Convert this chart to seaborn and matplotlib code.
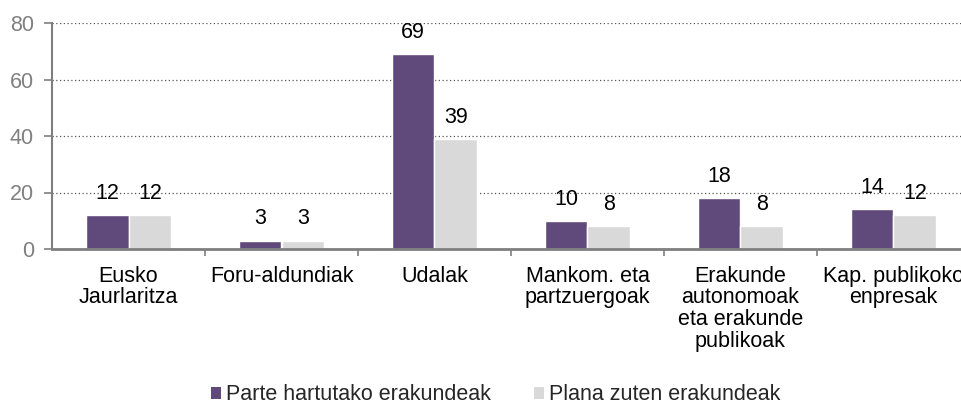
import matplotlib
matplotlib.use("Agg")
import matplotlib.pyplot as plt
import seaborn as sns
import pandas as pd
import numpy as np
from matplotlib.patches import Patch

categories = ["Eusko\nJaurlaritza", "Foru-aldundiak", "Udalak", "Mankom. eta\npartzuergoak",
              "Erakunde\nautonomoak\neta erakunde\npublikoak", "Kap. publikoko\nenpresak"]
series_names = ["Parte hartutako erakundeak", "Plana zuten erakundeak"]
parte = [12, 3, 69, 10, 18, 14]
plana = [12, 3, 39, 8, 8, 12]
yticks = [0, 20, 40, 60, 80]

colors = ["#604A7B", "#D9D9D9"]

sns.set_theme(style="white")
plt.rcParams['font.family'] = ['Liberation Sans', 'DejaVu Sans']

df = pd.DataFrame({
    "cat": categories * 2,
    "serie": [series_names[0]] * 6 + [series_names[1]] * 6,
    "val": parte + plana,
})

fs = 15.5
fig = plt.figure(figsize=(9.62, 4.05), dpi=100)
ax = fig.add_axes([52/962, 1-249/405, 918/962, 226/405])
sns.barplot(data=df, x="cat", y="val", hue="serie", palette=colors, width=0.56,
            ax=ax, legend=False, saturation=1, order=categories, hue_order=series_names)

for cont in ax.containers:
    ax.bar_label(cont, padding=8, fontsize=fs, color="#000000")

ax.set_xlim(-0.5, 5.5)
ax.set_ylim(0, 80)
ax.set_yticks(yticks)
ax.set_xlabel("")
ax.set_ylabel("")
ax.yaxis.grid(True, linestyle=(0, (1, 2)), color="#555555", linewidth=0.9)
ax.set_axisbelow(True)
for s in ["top", "right"]:
    ax.spines[s].set_visible(False)
ax.spines["left"].set_color("#7f7f7f")
ax.spines["bottom"].set_color("#7f7f7f")
ax.spines["bottom"].set_linewidth(2)
ax.spines["left"].set_linewidth(1.5)
ax.tick_params(axis="y", left=True, length=6, color="#7f7f7f", labelsize=fs,
               labelcolor="#808080", width=1.2, pad=7)
ax.tick_params(axis="x", bottom=False, labelsize=fs, labelcolor="#000000", pad=6)
ax.set_xticks(np.arange(0.5, 5.5, 1), minor=True)
ax.tick_params(axis="x", which="minor", bottom=True, length=5, color="#7f7f7f", width=1.2)
for lab in ax.get_xticklabels():
    lab.set_verticalalignment("top")
    lab.set_multialignment("center")
    lab.set_linespacing(1.05)

handles = [Patch(facecolor=c, edgecolor="none") for c in colors]
fig.legend(handles, series_names, loc="center", bbox_to_anchor=(0.515, 1-395/405), ncol=2,
           frameon=False, fontsize=fs, handlelength=0.5, handleheight=0.5,
           handletextpad=0.2, columnspacing=2.0)

fig.savefig("out.png", dpi=100)
